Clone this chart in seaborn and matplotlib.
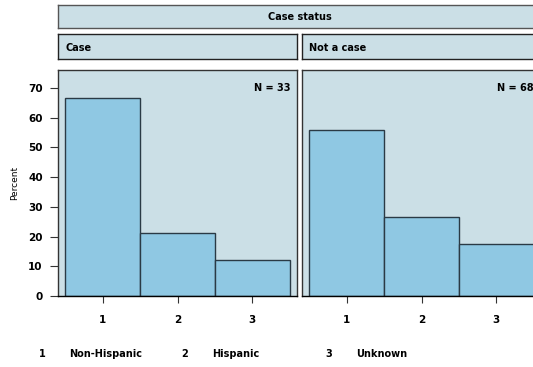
import matplotlib
matplotlib.use("Agg")
import matplotlib.pyplot as plt
import seaborn as sns
import pandas as pd

sns.set_theme(style="white")
plt.rcParams['font.family'] = ['DejaVu Sans']
plt.rcParams['text.color'] = 'black'
plt.rcParams['xtick.labelcolor'] = 'black'
plt.rcParams['ytick.labelcolor'] = 'black'

categories = ["1", "2", "3"]
case_pct = [66.7, 21.2, 12.1]
notcase_pct = [55.9, 26.5, 17.6]
panel_titles = ["Case", "Not a case"]
panel_n = ["N = 33", "N = 68"]
super_title = "Case status"
ylabel = "Percent"
yticks = [0, 10, 20, 30, 40, 50, 60, 70]
legend_codes = ["1", "2", "3"]
legend_labels = ["Non-Hispanic", "Hispanic", "Unknown"]

BG = "#CBDFE6"
BAR = "#8FC8E3"
EDGE = "#2A3A45"

W, H = 533, 367
fig = plt.figure(figsize=(W / 100, H / 100), dpi=100)

def fx(px):
    return px / W

def fy(py):
    return 1 - py / H

# super strip
sax = fig.add_axes([fx(58), fy(28), fx(541) - fx(58), fy(5) - fy(28)])
sax.set_facecolor(BG)
sax.set_xticks([]); sax.set_yticks([])
for s in sax.spines.values():
    s.set_color("#555555"); s.set_linewidth(1.0)
sax.text(0.5, 0.5, super_title, ha="center", va="center", fontsize=7, fontweight="bold", transform=sax.transAxes)

datasets = [case_pct, notcase_pct]
lefts = [58, 302]
for i, (vals, left) in enumerate(zip(datasets, lefts)):
    right = left + 239
    st = fig.add_axes([fx(left), fy(59), fx(right) - fx(left), fy(34) - fy(59)])
    st.set_facecolor(BG)
    st.set_xticks([]); st.set_yticks([])
    for s in st.spines.values():
        s.set_color("#222222"); s.set_linewidth(1.0)
    st.text(7 / 239, 0.45, panel_titles[i], ha="left", va="center", fontsize=7, fontweight="bold", transform=st.transAxes)

    ax = fig.add_axes([fx(left), fy(296), fx(right) - fx(left), fy(70) - fy(296)])
    df = pd.DataFrame({"cat": categories, "pct": vals})
    sns.barplot(data=df, x="cat", y="pct", ax=ax, color=BAR, width=1.0,
                edgecolor=EDGE, linewidth=1.0, saturation=1)
    ax.set_facecolor(BG)
    ax.set_xlim(-0.6, 2.6)
    ax.set_ylim(0, 76)
    ax.set_xlabel("")
    ax.set_ylabel("")
    for s in ax.spines.values():
        s.set_color("#333333"); s.set_linewidth(1.0)
    ax.spines["bottom"].set_color("black")
    ax.tick_params(axis="x", bottom=True, length=5, width=0.8, color="#333333",
                   pad=9, labelsize=7.5)
    for t in ax.get_xticklabels():
        t.set_fontweight("bold")
    ax.set_yticks(yticks)
    if i == 0:
        ax.tick_params(axis="y", left=True, length=6, width=0.8, color="#333333",
                       pad=5, labelsize=7.5)
        for t in ax.get_yticklabels():
            t.set_fontweight("bold")
    else:
        ax.tick_params(axis="y", left=False, labelleft=False)
    ax.text(1 - 7 / 239, 1 - 18 / 226, panel_n[i], ha="right", va="center", fontsize=7,
            fontweight="bold", transform=ax.transAxes)

fig.text(fx(15), fy(183), ylabel, rotation=90, ha="center", va="center", fontsize=6.5)

lx_code = [42, 185, 329]
lx_lab = [69, 212, 356]
for c, lab, xc, xl in zip(legend_codes, legend_labels, lx_code, lx_lab):
    fig.text(fx(xc), fy(354), c, ha="center", va="center", fontsize=7, fontweight="bold")
    fig.text(fx(xl), fy(354), lab, ha="left", va="center", fontsize=7, fontweight="bold")

fig.savefig("out.png", dpi=100, facecolor="white")
